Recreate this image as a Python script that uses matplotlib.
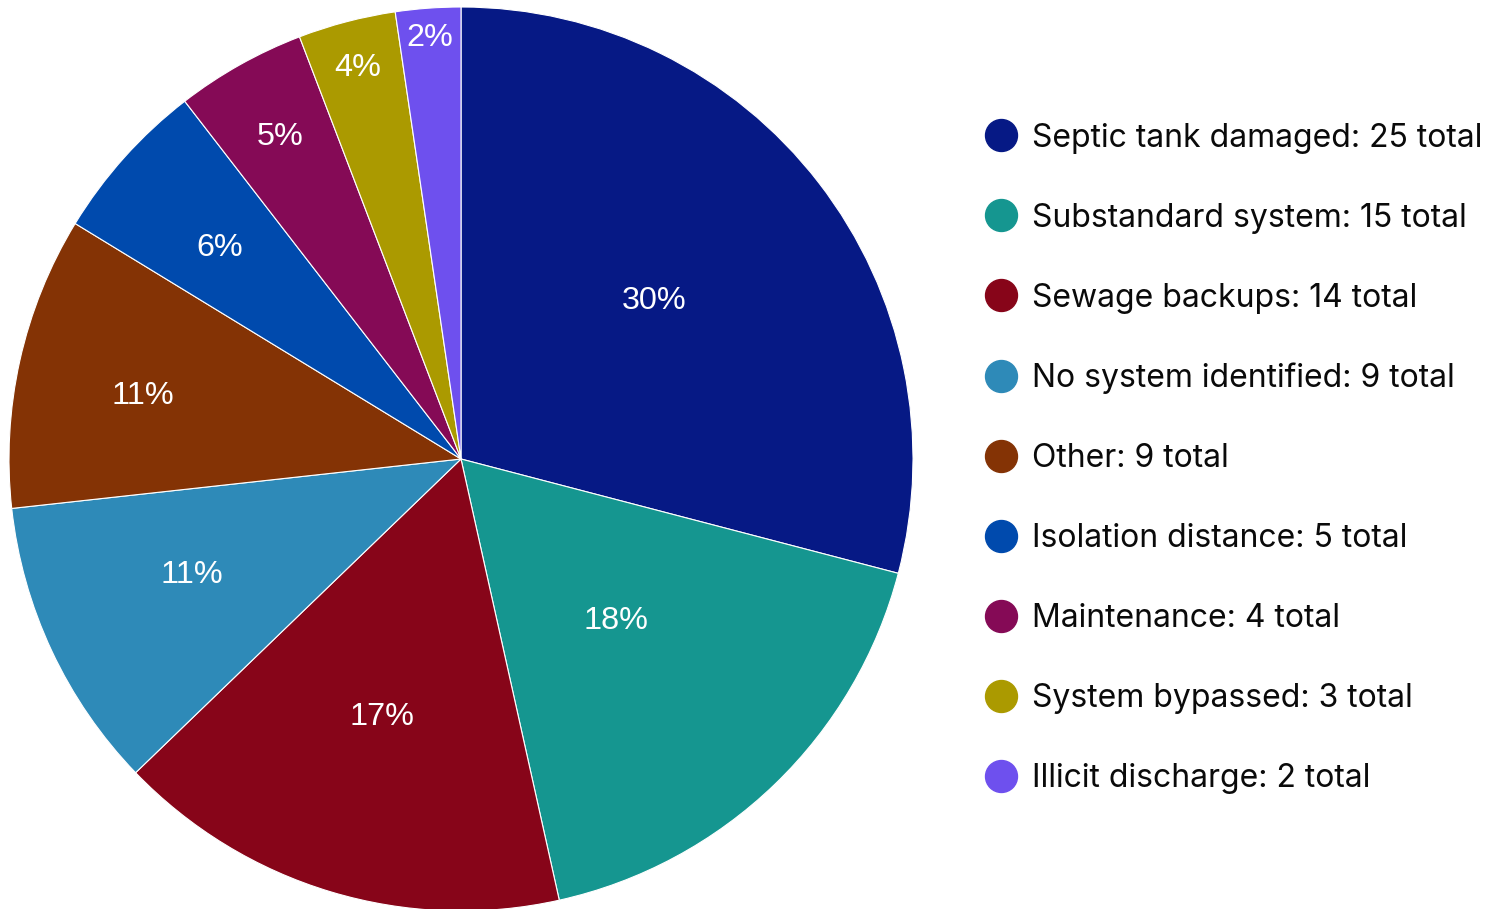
import matplotlib
matplotlib.use("Agg")
import matplotlib.pyplot as plt
from matplotlib.lines import Line2D
import numpy as np

categories = ["Septic tank damaged", "Substandard system", "Sewage backups",
              "No system identified", "Other", "Isolation distance",
              "Maintenance", "System bypassed", "Illicit discharge"]
values = [25, 15, 14, 9, 9, 5, 4, 3, 2]
pct_labels = ["30%", "18%", "17%", "11%", "11%", "6%", "5%", "4%", "2%"]
colors = ["#061985", "#159690", "#870519", "#2e8ab8", "#843305",
          "#004aad", "#850a56", "#ab9a00", "#6e50ee"]
# label placement (fraction of radius, angular shift in degrees)
label_dist = [0.557, 0.489, 0.589, 0.645, 0.720, 0.714, 0.824, 0.902, 0.942]
label_shift = [2.2, 0.4, -0.6, -2.4, 0.7, 0.2, -0.2, 0.0, 0.0]

plt.rcParams['font.family'] = ['Inter', 'DejaVu Sans']

W, H = 1501, 909
fig = plt.figure(figsize=(W / 100, H / 100), dpi=100)
R = 452
cx, cy = 461, 459
ax = fig.add_axes([(cx - R) / W, (H - cy - R) / H, 2 * R / W, 2 * R / H])

wedges, _ = ax.pie(values, colors=colors, startangle=90, counterclock=False,
                   radius=1, wedgeprops=dict(edgecolor='white', linewidth=0.8))
ax.set_xlim(-1, 1)
ax.set_ylim(-1, 1)
ax.set_aspect('equal')
ax.axis('off')

pct_size = 23.3
cap_half = pct_size * 0.716 / 2
for w, lab, d, s in zip(wedges, pct_labels, label_dist, label_shift):
    ang = np.deg2rad((w.theta1 + w.theta2) / 2 + s)
    ax.annotate(lab, (d * np.cos(ang), d * np.sin(ang)), xytext=(0, -cap_half),
                textcoords='offset points', family=['Liberation Sans', 'DejaVu Sans'],
                ha='center', va='baseline', color='white', fontsize=pct_size)

handles = [Line2D([0], [0], marker='o', linestyle='none', markersize=23,
                  markerfacecolor=c, markeredgecolor=c) for c in colors]
labels = [f"{c}: {v} total" for c, v in zip(categories, values)]
leg = fig.legend(handles, labels, loc='center left', bbox_to_anchor=(985 / W, 1 - 458.5 / H),
                 frameon=False, fontsize=23, labelspacing=1.535, handlelength=1.0,
                 handletextpad=0.47, borderpad=0, borderaxespad=0)
for t in leg.get_texts():
    t.set_color('#0a0a0a')

fig.savefig("out.png", dpi=100, facecolor='white')
